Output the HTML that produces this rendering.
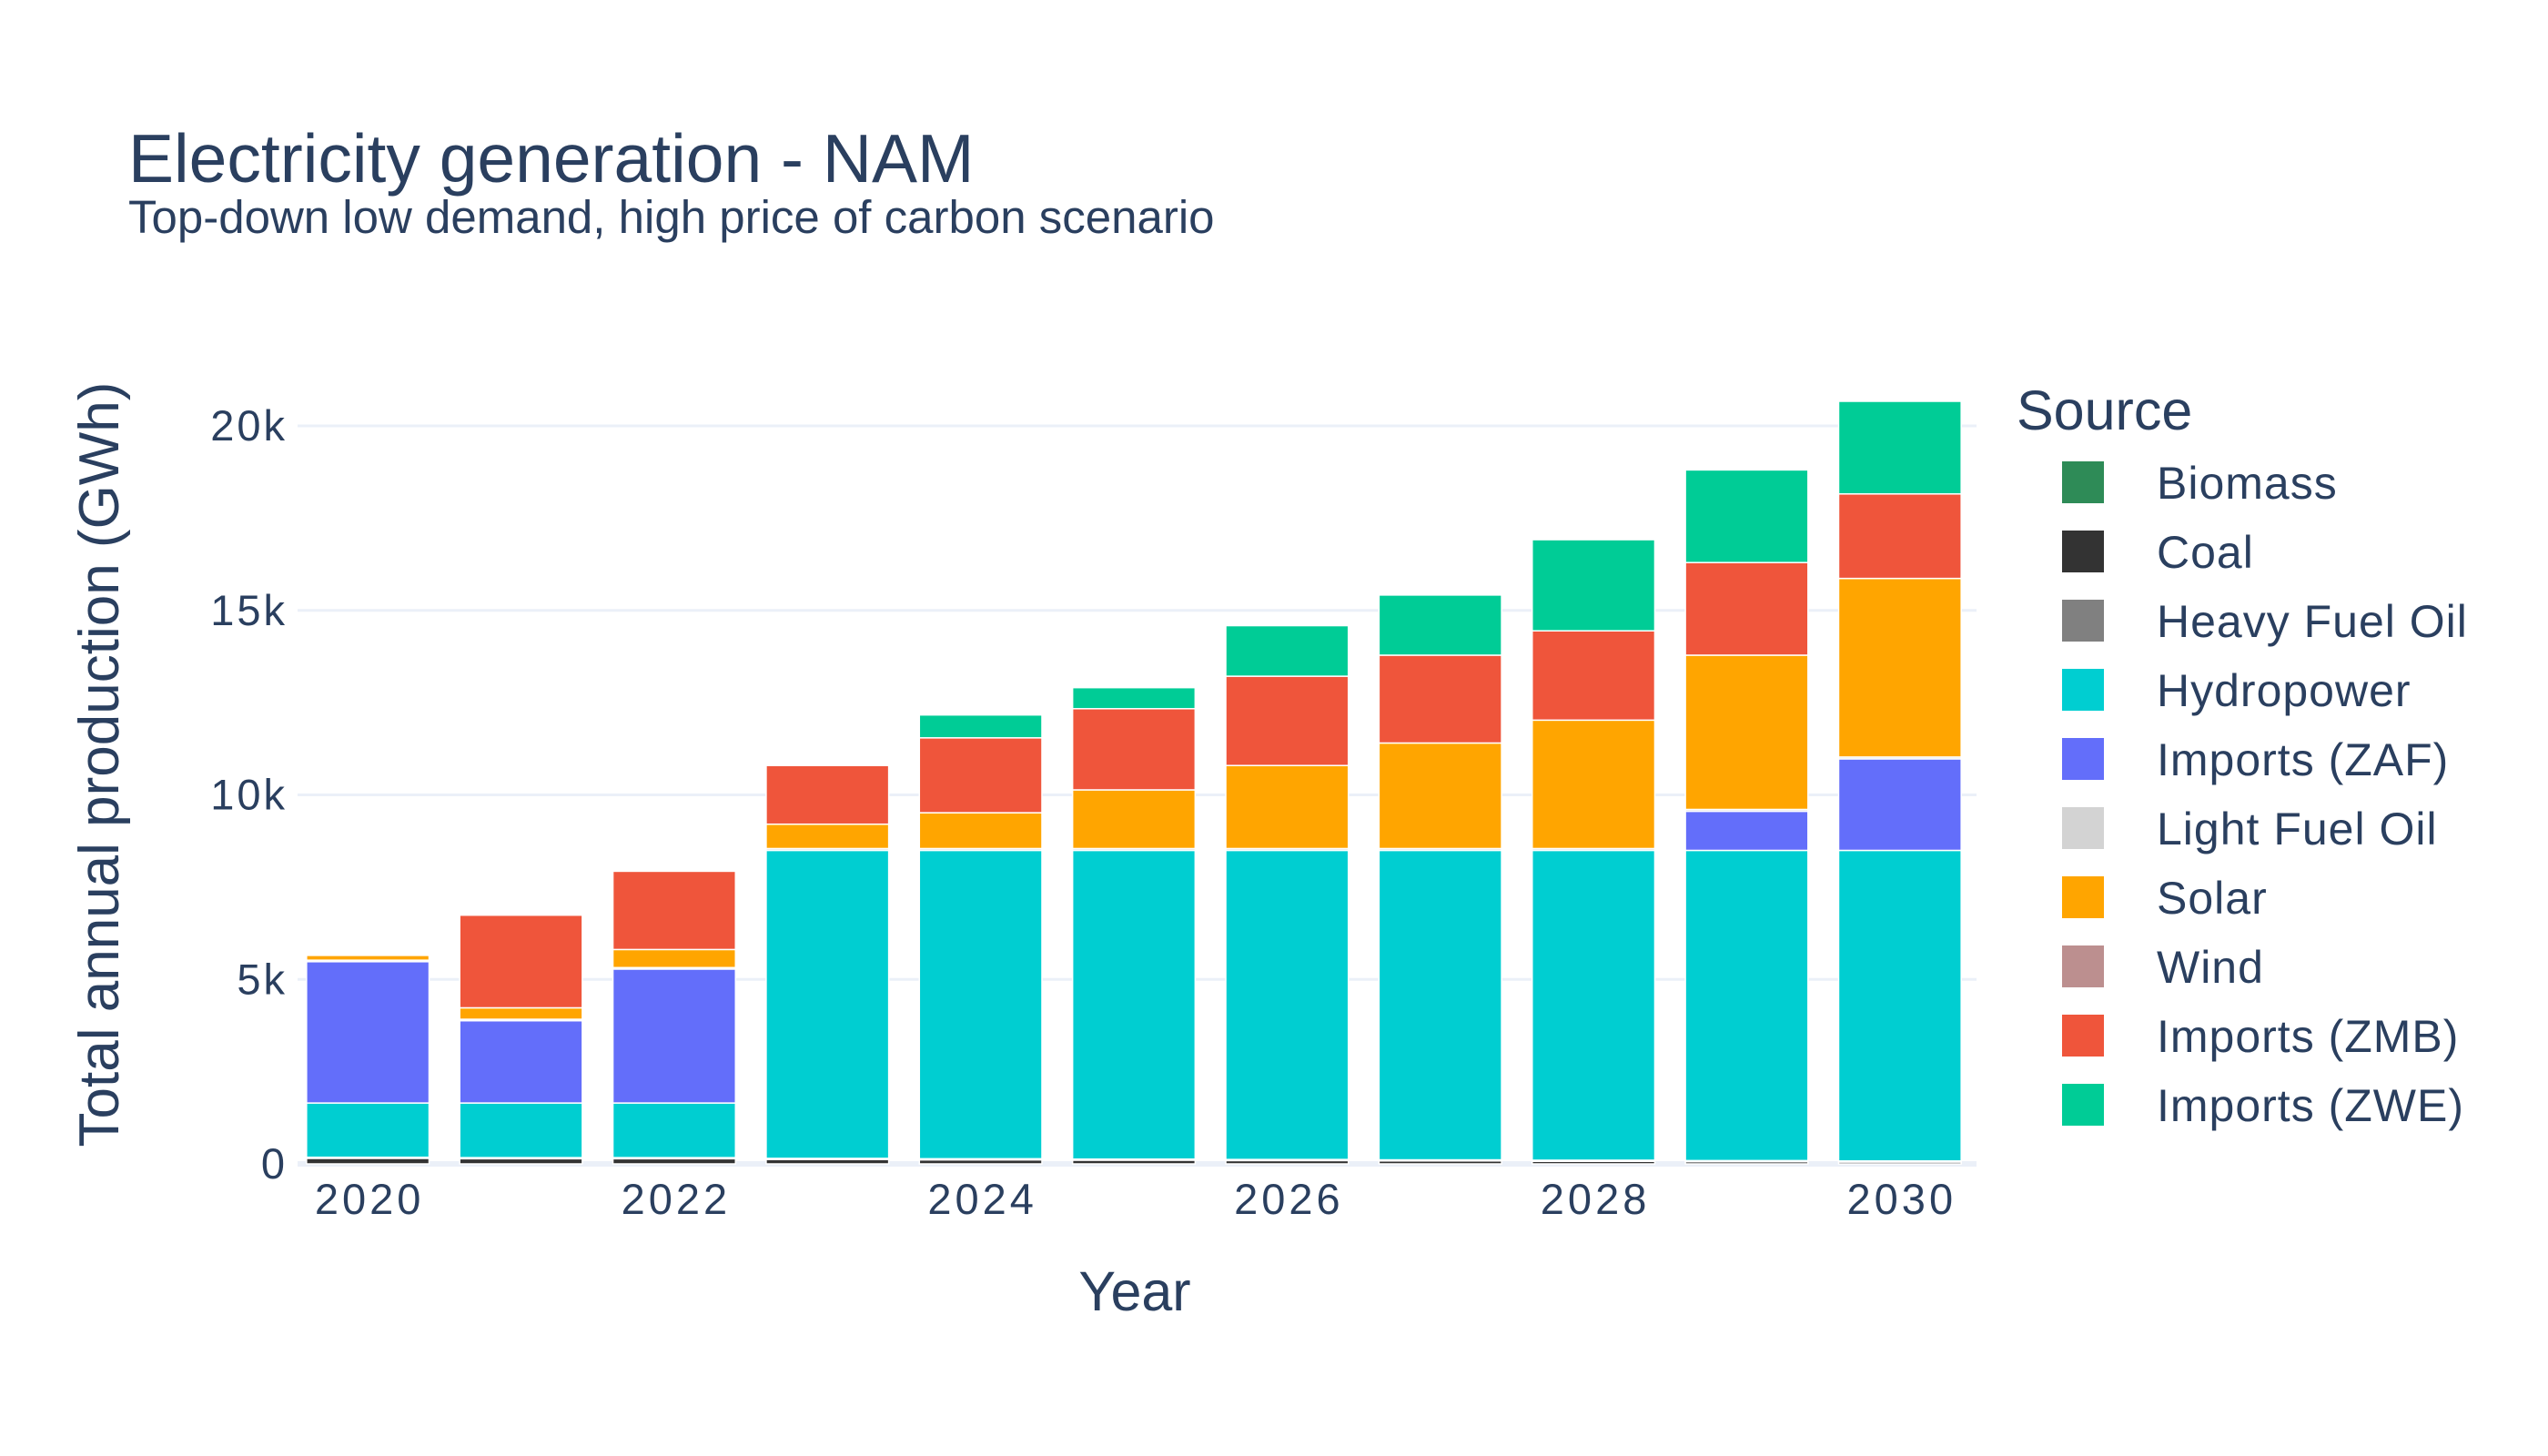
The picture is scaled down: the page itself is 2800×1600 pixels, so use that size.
<!DOCTYPE html>
<html><head><meta charset="utf-8">
<style>
html,body{margin:0;padding:0;background:#fff;}
svg{display:block;font-family:"Liberation Sans",sans-serif;fill:#2a3f5f;}
</style></head>
<body>
<svg id="chart" width="2800" height="1600" viewBox="0 0 2800 1600" xmlns="http://www.w3.org/2000/svg">
<rect width="2800" height="1600" fill="#fff"/>
<text x="141" y="200" font-size="75">Electricity generation - NAM</text>
<text x="141" y="256" font-size="51">Top-down low demand, high price of carbon scenario</text>
<g id="grid"></g>
<g id="bars"></g>
<g id="yticks"></g>
<g id="xticks"></g>
<text x="1247" y="1440" font-size="61" text-anchor="middle">Year</text>
<text transform="translate(130,840) rotate(-90)" font-size="62" text-anchor="middle">Total annual production (GWh)</text>
<g id="legend">
<text x="2216" y="472" font-size="61">Source</text>
</g>
</svg>
<script>
const years = [2020,2021,2022,2023,2024,2025,2026,2027,2028,2029,2030];
const seriesNames = ["Biomass","Coal","Heavy Fuel Oil","Hydropower","Imports (ZAF)","Light Fuel Oil","Solar","Wind","Imports (ZMB)","Imports (ZWE)"];
const seriesColors = ["#2e8b57","#333333","#808080","#00ced1","#636efa","#d3d3d3","#ffa500","#bc8f8f","#ef553b","#00cc96"];
const biomass = [0,0,0,0,0,0,0,0,0,0,0];
const coal = [150,140,140,120,110,100,90,80,70,60,50];
const heavyFuelOil = [30,30,30,30,30,30,30,30,30,30,30];
const hydropower = [1470,1480,1480,8346,8356,8366,8376,8386,8396,8406,8416];
const importsZAF = [3830,2230,3630,0,0,0,0,0,0,1060,2480];
const lightFuelOil = [40,40,40,50,50,50,50,50,50,50,50];
const solar = [130,310,490,660,970,1590,2250,2860,3480,4180,4840];
const wind = [0,0,0,0,0,0,0,0,0,0,0];
const importsZMB = [0,2510,2120,1590,2030,2200,2420,2380,2420,2510,2290];
const importsZWE = [0,0,0,0,620,570,1370,1630,2470,2510,2510];
const yTicks = [0,5000,10000,15000,20000];
const yTickLabels = ["0","5k","10k","15k","20k"];
const xTicks = [2020,2022,2024,2026,2028,2030];
const seriesData = [biomass,coal,heavyFuelOil,hydropower,importsZAF,lightFuelOil,solar,wind,importsZMB,importsZWE];

const NS="http://www.w3.org/2000/svg";
const X0=320, X1=2172, Y0=1279, PX_PER=(1279-468)/20000;
const step=(X1-X0)/years.length;
function xScale(i){return X0+step*(i+0.5);}
function yScale(v){return Y0-v*PX_PER;}
function mk(tag,parent){const e=document.createElementNS(NS,tag);parent.appendChild(e);return e;}

const grid=document.getElementById('grid');
yTicks.forEach((t,k)=>{
  const l=mk('line',grid);
  
  
  l.setAttribute('x1',327);l.setAttribute('x2',X1);
  l.setAttribute('y1',yScale(t));l.setAttribute('y2',yScale(t));
  l.setAttribute('stroke','#ebf0f8');l.setAttribute('stroke-width',t===0?6:3);
  const tx=mk('text',document.getElementById('yticks'));
  
  
  tx.setAttribute('x',316);tx.setAttribute('y',yScale(t)+16);
  tx.setAttribute('text-anchor','end');tx.setAttribute('font-size','47');
  tx.setAttribute('letter-spacing','3');
  tx.textContent=yTickLabels[k];
});
xTicks.forEach(yr=>{
  const i=years.indexOf(yr);
  const tx=mk('text',document.getElementById('xticks'));
  
  
  tx.setAttribute('x',xScale(i)+2);tx.setAttribute('y',1334);
  tx.setAttribute('text-anchor','middle');tx.setAttribute('font-size','47');
  tx.setAttribute('letter-spacing','4');
  tx.textContent=yr;
});
const bars=document.getElementById('bars');
const bw=step*0.8;
years.forEach((yr,i)=>{
  let base=0;
  seriesData.forEach((arr,s)=>{
    const v=arr[i];
    if(v<=0) return;
    const r=mk('rect',bars);
    
    
    r.setAttribute('x',xScale(i)-bw/2);r.setAttribute('width',bw);
    r.setAttribute('y',yScale(base+v));r.setAttribute('height',v*PX_PER);
    r.setAttribute('fill',seriesColors[s]);r.setAttribute('stroke','#fff');r.setAttribute('stroke-width','1.5');
    base+=v;
  });
});
const leg=document.getElementById('legend');
seriesNames.forEach((n,s)=>{
  const cy=530+s*76;
  const g=mk('g',leg);
  
  
  const r=mk('rect',g);
  r.setAttribute('x',2266);r.setAttribute('y',cy-23);r.setAttribute('width',46);r.setAttribute('height',46);
  r.setAttribute('fill',seriesColors[s]);
  const t=mk('text',g);
  t.setAttribute('x',2370);t.setAttribute('y',cy+18);t.setAttribute('font-size','50');
  t.setAttribute('letter-spacing','1');
  t.textContent=n;
});
</script>
</body></html>
